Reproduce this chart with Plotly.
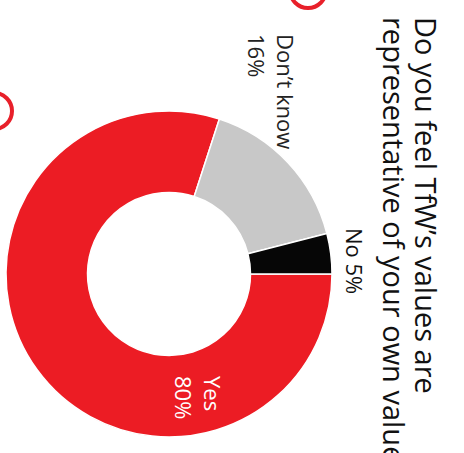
import plotly.graph_objects as go

# ---- data ----
categories = ["Yes", "Don\u2019t know", "No"]
values = [80, 16, 4]
pct_labels = ["80%", "16%", "5%"]
slice_colors = ["#EC1C24", "#C8C8C8", "#060606"]
title_lines = ["Do you feel TfW\u2019s values are", "representative of your own values"]

W, H = 464, 453

def px(x):
    return x / W

def py(y):
    return 1 - y / H

fig = go.Figure()
fig.add_trace(go.Pie(
    labels=categories,
    values=values,
    hole=0.5,
    sort=False,
    direction="clockwise",
    rotation=90,
    marker=dict(colors=slice_colors, line=dict(color="white", width=1.5)),
    textinfo="none",
    hoverinfo="label+percent",
    showlegend=False,
    domain=dict(x=[px(6), px(332)], y=[py(437), py(111)]),
))

lab_font = "Open Sans, Liberation Sans, Arial, sans-serif"
# label annotations (rotated): idx, x_right_px, y_top_px, color, separator
label_specs = [
    (2, 371, 227, "#111111", " "),
    (1, 302, 33, "#222222", "<br>"),
    (0, 229, 375, "#FFFFFF", "<br>"),
]
annotations = []
for idx, xr, yt, col, sep in label_specs:
    annotations.append(dict(
        text=categories[idx] + sep + pct_labels[idx], textangle=90,
        xref="paper", yref="paper",
        x=px(xr), y=py(yt), xanchor="right", yanchor="top",
        showarrow=False, align="left", borderpad=0,
        font=dict(family=lab_font, size=22, color=col),
    ))

for i, line in enumerate(title_lines):
    annotations.append(dict(
        text=line, textangle=90, xref="paper", yref="paper",
        x=px(447 - 32 * i), y=py(16), xanchor="right", yanchor="top",
        showarrow=False, align="left", borderpad=0,
        font=dict(family=lab_font, size=29, color="#111111"),
    ))

shapes = [
    dict(type="circle", xref="paper", yref="paper",
         x0=px(290), x1=px(326), y0=py(-28), y1=py(8),
         line=dict(color="#E8202A", width=4)),
    dict(type="circle", xref="paper", yref="paper",
         x0=px(-24), x1=px(12), y0=py(93), y1=py(129),
         line=dict(color="#E8202A", width=4)),
]

fig.update_layout(
    width=W, height=H,
    margin=dict(l=0, r=0, t=0, b=0),
    paper_bgcolor="white", plot_bgcolor="white",
    annotations=annotations, shapes=shapes,
)

fig.write_html("out.html")
